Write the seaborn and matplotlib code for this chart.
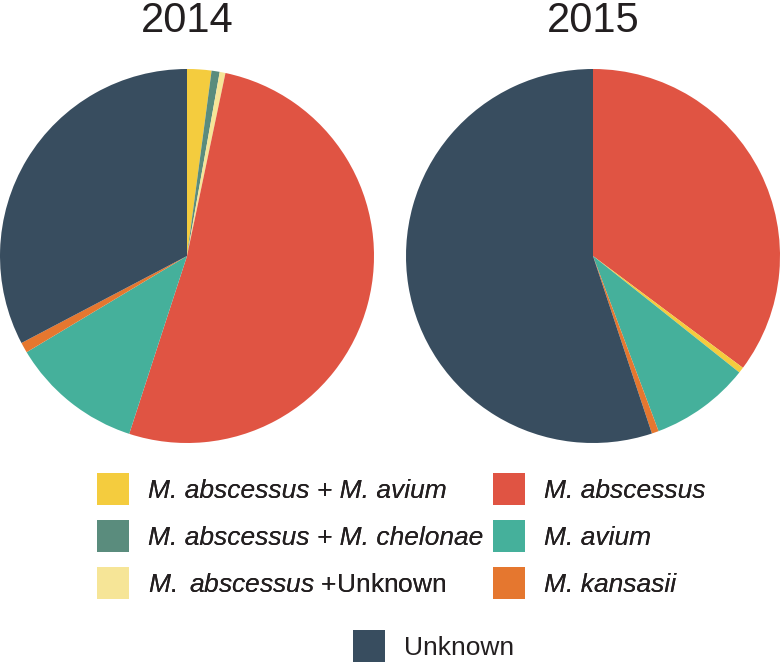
import matplotlib
matplotlib.use("Agg")
import matplotlib.pyplot as plt
import matplotlib.patches as mpatches
import seaborn as sns

# categories and colours
species = ["M. abscessus + M. avium", "M. abscessus + M. chelonae", "M. abscessus +Unknown",
           "M. abscessus", "M. avium", "M. kansasii", "Unknown"]
colors = ["#F4CC3E", "#5A8C7D", "#F6E597", "#E05443", "#45B09B", "#E5772F", "#384D5F"]

# slice order as drawn in each pie (clockwise from top)
order_2014 = ["M. abscessus + M. avium", "M. abscessus + M. chelonae", "M. abscessus +Unknown",
              "M. abscessus", "M. avium", "M. kansasii", "Unknown"]
share_2014 = [2.1, 0.7, 0.5, 51.7, 11.4, 0.9, 32.7]

order_2015 = ["M. abscessus", "M. abscessus + M. avium", "M. avium", "M. kansasii", "Unknown"]
share_2015 = [35.2, 0.5, 8.6, 0.6, 55.1]

sns.set_theme(style="white")
plt.rcParams["font.family"] = ["Liberation Sans", "DejaVu Sans"]
plt.rcParams["mathtext.fontset"] = "custom"
plt.rcParams["mathtext.it"] = "Liberation Sans:italic"
plt.rcParams["mathtext.rm"] = "Liberation Sans"

pal = dict(zip(species, colors))
txt = "#231F20"

fig = plt.figure(figsize=(7.8, 6.7), dpi=100)
W, H = 780, 670

def pie_axes(cx, cy, r):
    return fig.add_axes([(cx - r) / W, 1 - (cy + r) / H, 2 * r / W, 2 * r / H])

for year, order, share, cx in [("2014", order_2014, share_2014, 187),
                                ("2015", order_2015, share_2015, 593)]:
    ax = pie_axes(cx, 256, 187)
    ax.pie(share, colors=[pal[s] for s in order], startangle=90, counterclock=False,
           wedgeprops=dict(linewidth=0))
    ax.set_aspect("equal")
    ax.set_xlim(-1, 1)
    ax.set_ylim(-1, 1)
    ax.axis("off")
    fig.text(cx / W, 1 - 21 / H, year, ha="center", va="center", fontsize=30, color=txt)

fs = 19
fpx = fs * 100 / 72  # font size in pixels

def make_legend(names, x, y, labels=None):
    handles = [mpatches.Patch(facecolor=pal[n], edgecolor="none") for n in names]
    leg = fig.legend(handles, labels or names, loc="upper left",
                     bbox_to_anchor=(x / W, 1 - y / H), frameon=False, fontsize=fs,
                     handlelength=32 / fpx, handleheight=(32 / fpx - 0.245) / 0.65,
                     labelspacing=15 / fpx, handletextpad=19 / fpx,
                     borderpad=0, borderaxespad=0)
    for t in leg.get_texts():
        t.set_color(txt)
    return leg

col1 = species[:3]
lab1 = [species[0], species[1], r"$\mathit{M.\ abscessus}$ +Unknown"]
leg1 = make_legend(col1, 97, 473, lab1)
leg1.get_texts()[0].set_style("italic")
leg1.get_texts()[1].set_style("italic")
fig.add_artist(leg1)

leg2 = make_legend(species[3:6], 493, 473)
for t in leg2.get_texts():
    t.set_style("italic")
fig.add_artist(leg2)

leg3 = make_legend(["Unknown"], 353, 630)

fig.savefig("out.png", dpi=100)
